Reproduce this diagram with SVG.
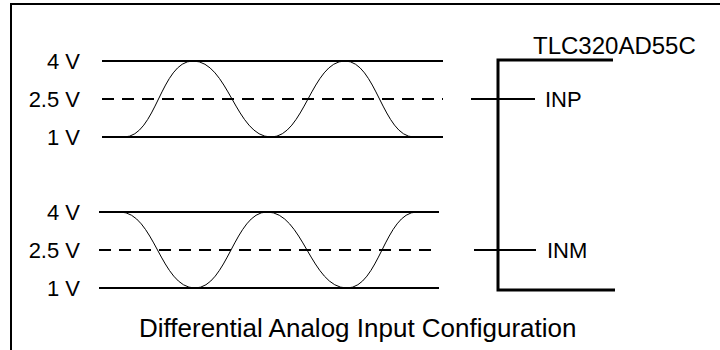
<svg xmlns="http://www.w3.org/2000/svg" width="720" height="350" viewBox="0 0 720 350">
<style>
text{font-family:"Liberation Sans",Arial,sans-serif;font-size:22px;fill:#000}
.title{font-size:26px}
.part{font-size:24px}
.lvl{stroke:#000;stroke-width:2;fill:none}
.dash{stroke:#000;stroke-width:2;fill:none;stroke-dasharray:12 8}
.wave{stroke:#000;stroke-width:1;fill:none}
.ic{stroke:#000;stroke-width:3;fill:none}
.pin{stroke:#000;stroke-width:2;fill:none}
</style>
<rect width="720" height="350" fill="#fff"/>
<path d="M11,350 V4 H720" fill="none" stroke="#000" stroke-width="2"/>
<g id="inp-signal">
<text x="80" y="69" text-anchor="end">4 V</text>
<text x="80" y="107" text-anchor="end">2.5 V</text>
<text x="80" y="145" text-anchor="end">1 V</text>
<line class="lvl" x1="102" y1="61" x2="443" y2="61"/>
<line class="dash" x1="102" y1="99" x2="443" y2="99"/>
<line class="lvl" x1="102" y1="137" x2="443" y2="137"/>
<path class="wave" d="M124,137 C156,137 161,61 193,61 C228,61 236,137 271,137 C304,137 312,61 345,61 C376,61 383,137 414,137"/>
</g>
<g id="inm-signal">
<text x="80" y="220" text-anchor="end">4 V</text>
<text x="80" y="258" text-anchor="end">2.5 V</text>
<text x="80" y="296" text-anchor="end">1 V</text>
<line class="lvl" x1="99" y1="212" x2="439" y2="212"/>
<line class="dash" x1="99" y1="250" x2="439" y2="250"/>
<line class="lvl" x1="99" y1="288" x2="439" y2="288"/>
<path class="wave" d="M120,212 C154,212 161,288 195,288 C227,288 235,212 267,212 C303,212 311,288 347,288 C379,288 385,212 417,212"/>
</g>
<g id="tlc320ad55c">
<text class="part" x="533" y="54">TLC320AD55C</text>
<path class="ic" d="M613,60 H498 V290 H615"/>
<text x="545" y="107">INP</text>
<text x="547" y="258">INM</text>
</g>
<g id="connectors">
<line class="pin" x1="471" y1="99" x2="535" y2="99"/>
<line class="pin" x1="474" y1="250" x2="536" y2="250"/>
</g>
<text class="title" x="139" y="337">Differential Analog Input Configuration</text>
</svg>
